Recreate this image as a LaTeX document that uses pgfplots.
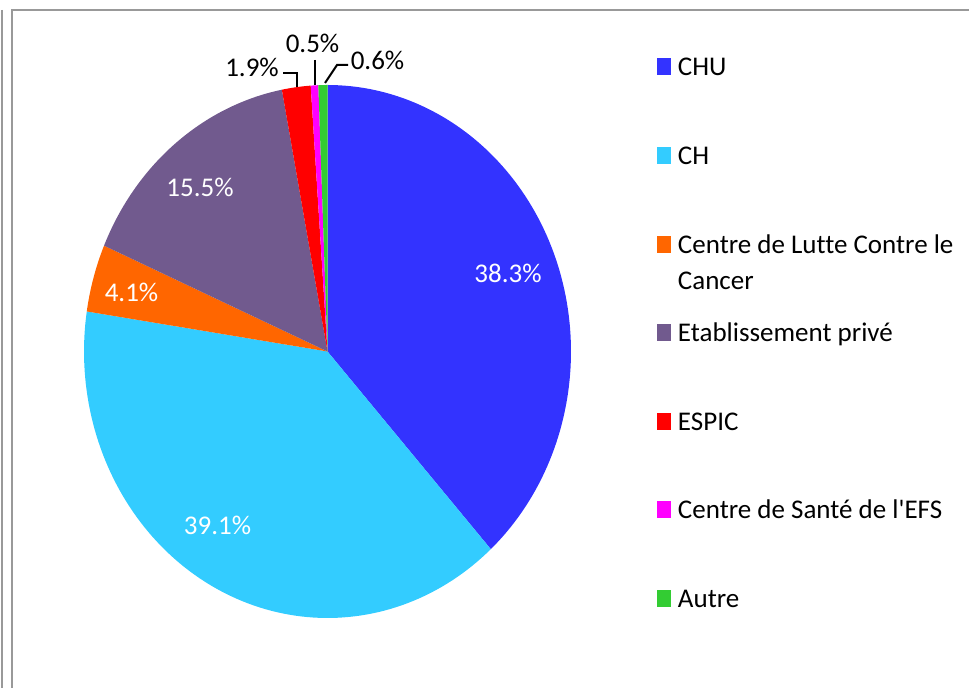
\documentclass[border=0pt]{standalone}
\usepackage{fontspec}
\setmainfont{Carlito}[Ligatures=NoCommon]
\newfontfamily\plain{Carlito}[Ligatures=NoCommon]
\usepackage{pgfplots}
\pgfplotsset{compat=1.18}

\definecolor{chu}{HTML}{3333FF}
\definecolor{ch}{HTML}{33CCFF}
\definecolor{clcc}{HTML}{FF6600}
\definecolor{prive}{HTML}{715A8E}
\definecolor{espic}{HTML}{FF0000}
\definecolor{efs}{HTML}{FF00FF}
\definecolor{autre}{HTML}{33CC33}
\definecolor{cadre}{HTML}{999999}

% one slice: start (%), share (%), colour -- clockwise from the top
\newcommand{\pieslice}[3]{%
  \addplot[fill=#3, draw=none, domain=90-3.6*(#1+#2):90-3.6*(#1), samples=100]
    ({327.5+243.5*cos(x)}, {336.5+266.5*sin(x)}) -- (axis cs:327.5,336.5) -- cycle;
}

\begin{document}
\begin{tikzpicture}
\useasboundingbox (0,0) rectangle (484.5pt,344pt);
\begin{axis}[
    at={(0,0)}, anchor=south west,
    scale only axis, width=484.5pt, height=344pt,
    xmin=0, xmax=969, ymin=0, ymax=688,
    hide axis, clip=false,
    legend cell align=left,
    legend image code/.code={\fill[#1] (0pt,-4.25pt) rectangle (7pt,4.25pt);},
    legend style={
        draw=none, fill=none, inner sep=0pt, outer sep=0pt,
        at={(axis description cs:0.678,0.9157)}, anchor=north west,
        font=\fontsize{13.5}{18}\selectfont,
        row sep=35.3pt, column sep=3.5pt,
        nodes={inner sep=0pt, text height=9pt, text depth=0pt}
    }
]
% frame
\draw[cadre, line width=1pt] (axis cs:2,678) -- (axis cs:2,0);
\draw[cadre, line width=1pt] (axis cs:969,678) -- (axis cs:12,678) -- (axis cs:12,0);

\pieslice{0}{38.3}{chu}
\pieslice{38.3}{39.1}{ch}
\pieslice{77.4}{4.1}{clcc}
\pieslice{81.5}{15.5}{prive}
\pieslice{97.0}{1.9}{espic}
\pieslice{98.9}{0.5}{efs}
\pieslice{99.4}{0.6}{autre}

\legend{CHU, CH, {\parbox[t]{160pt}{Centre de Lutte Contre le\\Cancer}}, Etablissement privé, ESPIC, {Centre de Santé de l{\plain '}EFS}, Autre}

% data labels
\begin{scope}[every node/.style={font=\fontsize{13.5}{18}\selectfont, anchor=base, inner sep=0pt}]
\node[white] at (axis cs:508,405) {38.3\%};
\node[white] at (axis cs:217.5,153) {39.1\%};
\node[white] at (axis cs:131.5,386) {4.1\%};
\node[white] at (axis cs:200,491) {15.5\%};
\node at (axis cs:252,611) {1.9\%};
\node at (axis cs:312.5,635) {0.5\%};
\node at (axis cs:377.5,618) {0.6\%};
\end{scope}
\draw[black, line width=1pt] (axis cs:283,615) -- (axis cs:297,615) -- (axis cs:297,601);
\draw[black, line width=1pt] (axis cs:315,628) -- (axis cs:315,603);
\draw[black, line width=1pt] (axis cs:348,623) -- (axis cs:337,623) -- (axis cs:325,605);
\end{axis}
\end{tikzpicture}
\end{document}
